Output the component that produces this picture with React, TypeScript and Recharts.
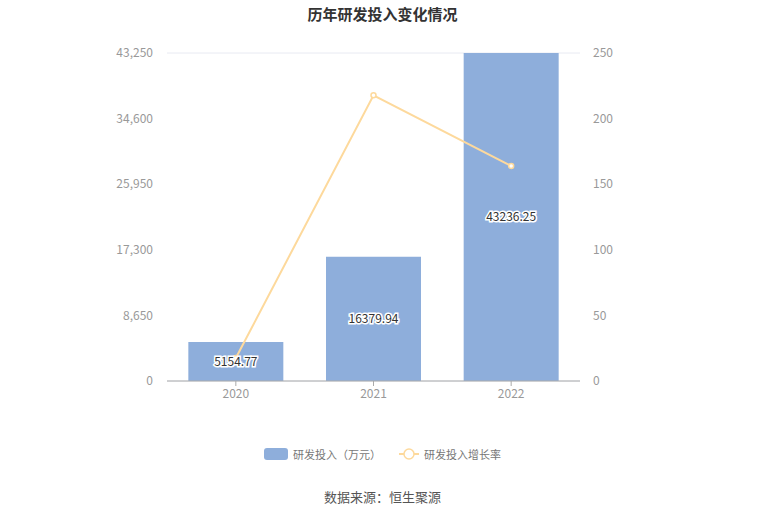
import { ComposedChart, Bar, Line, XAxis, YAxis, CartesianGrid, Legend, LabelList } from "recharts";

const years = ["2020", "2021", "2022"];
const rdInvest = [5154.77, 16379.94, 43236.25];
const rdGrowth = [17.5, 217.77, 163.96];
const leftTicks = [0, 8650, 17300, 25950, 34600, 43250];
const rightTicks = [0, 50, 100, 150, 200, 250];

const data = years.map((year, i) => ({
  year,
  invest: rdInvest[i],
  growth: rdGrowth[i],
}));

const font = "'Noto Sans CJK SC', 'Noto Sans', sans-serif";
const barColor = "#8eaedb";
const lineColor = "#fdd99c";

function LegendBox() {
  return (
    <div style={{ display: "flex", justifyContent: "center", alignItems: "center", fontSize: 11, color: "#777", fontFamily: font }}>
      <svg width={24} height={12} style={{ marginRight: 5 }}>
        <rect x={0} y={0} width={24} height={12} rx={3} fill={barColor} />
      </svg>
      <span>研发投入（万元）</span>
      <svg width={20} height={12} style={{ marginLeft: 18, marginRight: 5 }}>
        <line x1={0} y1={6} x2={20} y2={6} stroke={lineColor} strokeWidth={2} />
        <circle cx={10} cy={6} r={5} fill="#fff" stroke={lineColor} strokeWidth={1.5} />
      </svg>
      <span>研发投入增长率</span>
    </div>
  );
}

export default function App() {
  return (
    <div style={{ position: "absolute", left: 0, top: 0, width: 765, height: 517, background: "#fff", fontFamily: font }}>
      <div style={{ position: "absolute", top: 3, width: 765, textAlign: "center", fontSize: 15, fontWeight: "bold", color: "#333" }}>
        历年研发投入变化情况
      </div>
      <ComposedChart
        width={765}
        height={517}
        data={data}
        margin={{ top: 53, right: 0, bottom: 106, left: 0 }}
        barCategoryGap="15.5%"
      >
        <CartesianGrid vertical={false} stroke="#e8eaf2" />
        <XAxis
          dataKey="year"
          height={30}
          tick={{ fill: "#999", fontSize: 12, fontFamily: font }}
          axisLine={{ stroke: "#aaa" }}
          tickLine={{ stroke: "#aaa" }}
          tickSize={5}
          tickMargin={3}
        />
        <YAxis
          yAxisId="left"
          width={167}
          domain={[0, 43250]}
          ticks={leftTicks}
          tickFormatter={(v: number) => v.toLocaleString("en-US")}
          tick={{ fill: "#999", fontSize: 12, fontFamily: font }}
          axisLine={false}
          tickLine={false}
          tickMargin={8}
        />
        <YAxis
          yAxisId="right"
          orientation="right"
          width={185}
          domain={[0, 250]}
          ticks={rightTicks}
          tick={{ fill: "#999", fontSize: 12, fontFamily: font, textAnchor: "start" }}
          axisLine={false}
          tickLine={false}
          tickMargin={7}
        />
        <Bar yAxisId="left" dataKey="invest" name="研发投入（万元）" fill={barColor} isAnimationActive={false}>
          <LabelList
            dataKey="invest"
            position="center"
            style={{ fill: "#333", fontSize: 12, fontFamily: font, stroke: "#fff", strokeWidth: 3, paintOrder: "stroke" }}
          />
        </Bar>
        <Line
          yAxisId="right"
          dataKey="growth"
          name="研发投入增长率"
          stroke={lineColor}
          strokeWidth={2}
          dot={{ r: 2.5, fill: "#fff", stroke: lineColor, strokeWidth: 1.5 }}
          isAnimationActive={false}
        />
        <Legend
          verticalAlign="middle"
          align="center"
          content={<LegendBox />}
          wrapperStyle={{ top: 446, left: 0, width: 765 }}
        />
      </ComposedChart>
      <div style={{ position: "absolute", top: 487, width: 765, textAlign: "center", fontSize: 13, color: "#555" }}>
        数据来源：恒生聚源
      </div>
    </div>
  );
}
